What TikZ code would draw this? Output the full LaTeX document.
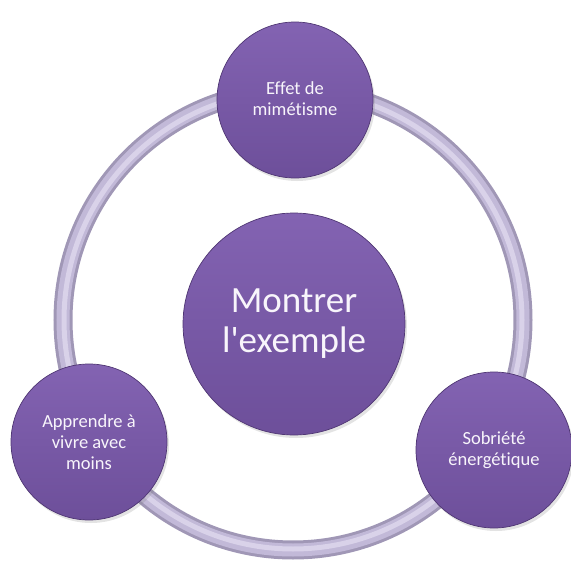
\documentclass[tikz,border=0pt]{standalone}
\usepackage{fontspec}
\setmainfont{Carlito}[Ligatures={NoCommon}]
\usetikzlibrary{shadows}
\definecolor{bubbletop}{HTML}{8363B2}
\definecolor{bubblebot}{HTML}{6D4F9A}
\definecolor{bubbleedge}{HTML}{4F3673}
\definecolor{ringdark}{HTML}{A097B6}
\definecolor{ringmid}{HTML}{C2B9D8}
\definecolor{ringlight}{HTML}{D9D2E9}
\definecolor{txt}{HTML}{F8F5FB}
\begin{document}
\begin{tikzpicture}[x=1pt,y=-1pt,
  bubble/.style={circle, draw=bubbleedge, line width=0.7pt, top color=bubbletop, bottom color=bubblebot,
    text=txt, align=center, inner sep=0pt,
    drop shadow={shadow xshift=2pt, shadow yshift=-3pt, opacity=0.22}},
  smallbubble/.style={bubble, minimum size=156pt, font=\fontsize{18.5}{21}\selectfont},
  bigbubble/.style={bubble, minimum size=222pt, font=\fontsize{37}{40}\selectfont},
  ringdk/.style={draw=ringdark, line width=19pt},
  ringmd/.style={draw=ringmid, line width=13pt},
  ringlt/.style={draw=ringlight, line width=5pt}]
\useasboundingbox (0,0) rectangle (571,562);
\coordinate (rc) at (293,320);
\draw[ringdk] (rc) circle[radius=230pt];
\draw[ringmd] (rc) circle[radius=230pt];
\draw[ringlt] (rc) circle[radius=229pt];
\node[bigbubble] (center) at (294,324) {\raisebox{-3pt}{Montrer}\\\raisebox{-3pt}{l\textquotesingle exemple}};
\node[smallbubble] (top) at (295,100) {\raisebox{3pt}{Effet de}\\\raisebox{3pt}{mimétisme}};
\node[smallbubble] (left) at (89,442) {Apprendre à\\vivre avec\\moins};
\node[smallbubble] (right) at (494,450) {\raisebox{2pt}{Sobriété}\\\raisebox{2pt}{énergétique}};
\end{tikzpicture}
\end{document}
